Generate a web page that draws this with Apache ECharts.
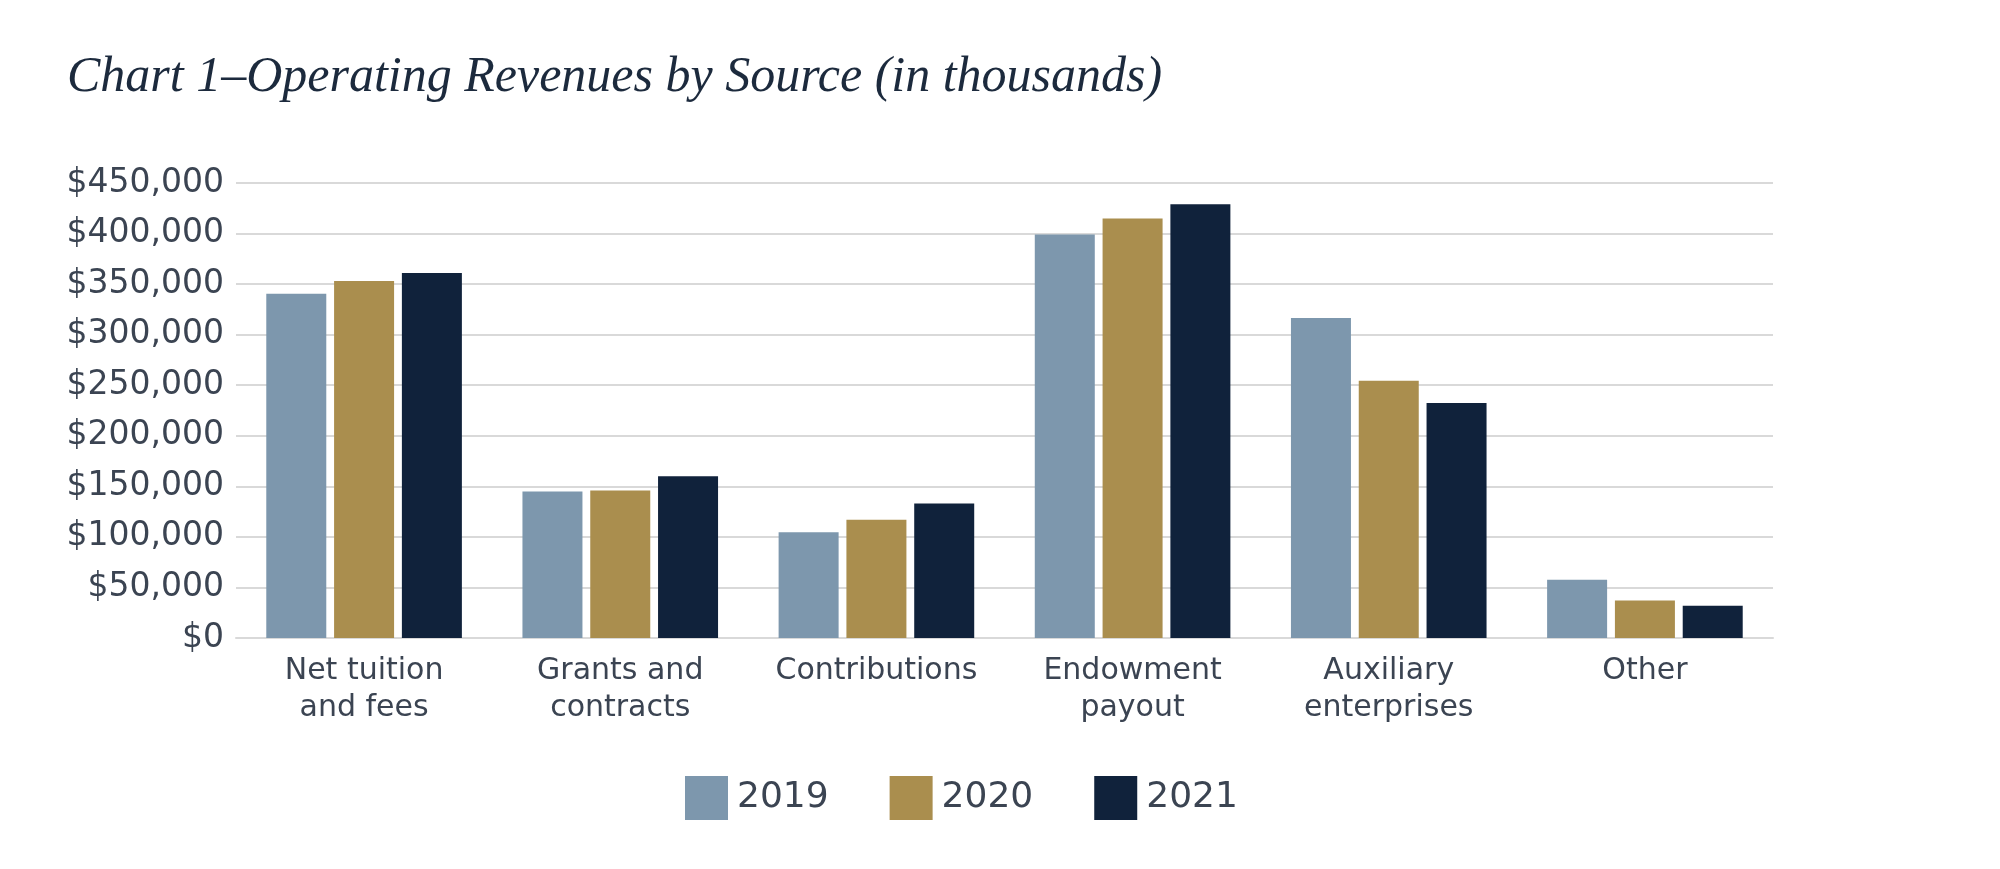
<!DOCTYPE html>
<html>
<head>
<meta charset="utf-8">
<script src="https://cdn.jsdelivr.net/npm/echarts@6/dist/echarts.min.js"></script>
<style>html,body{margin:0;padding:0;background:#fff;}#c{width:2000px;height:869px;}</style>
</head>
<body>
<div id="c"></div>
<script>
const categories = ['Net tuition\nand fees', 'Grants and\ncontracts', 'Contributions', 'Endowment\npayout', 'Auxiliary\nenterprises', 'Other'];
const years = ['2019', '2020', '2021'];
const values2019 = [340500, 145000, 104500, 399000, 316500, 57500];
const values2020 = [353000, 146000, 117000, 415000, 254500, 37000];
const values2021 = [361000, 160000, 133000, 429000, 232500, 32000];
const yTicks = { min: 0, max: 450000, interval: 50000 };
const colors = ['#7d97ad', '#aa8e4e', '#10223b'];

const chart = echarts.init(document.getElementById('c'));
const font = 'DejaVu Sans';
const textColor = '#3b4452';
const seriesData = [values2019, values2020, values2021];
chart.setOption({
  animation: false,
  title: {
    text: 'Chart 1–Operating Revenues by Source (in thousands)',
    left: 62, top: 48,
    textStyle: { fontFamily: 'Liberation Serif', fontStyle: 'italic', fontWeight: 'normal', fontSize: 50, color: '#1c2a3d' }
  },
  legend: {
    data: years,
    left: 680, top: 771,
    icon: 'rect', itemWidth: 43, itemHeight: 44, itemGap: 61,
    textStyle: { fontFamily: font, fontSize: 36, color: textColor, padding: [0, 0, 0, 4] }
  },
  grid: { left: 236, right: 227, top: 183, bottom: 231, containLabel: false },
  xAxis: {
    type: 'category', data: categories,
    axisLine: { lineStyle: { color: '#d9d9d9', width: 2 } },
    axisTick: { show: false },
    axisLabel: { interval: 0, fontFamily: font, fontSize: 30, color: textColor, margin: 15, lineHeight: 37 }
  },
  yAxis: {
    type: 'value', min: yTicks.min, max: yTicks.max, interval: yTicks.interval,
    axisLine: { show: false }, axisTick: { show: false },
    splitLine: { lineStyle: { color: '#d9d9d9', width: 2 } },
    axisLabel: { fontFamily: font, fontSize: 33, color: textColor, margin: 12,
      formatter: v => '$' + v.toLocaleString('en-US') }
  },
  series: years.map((y, i) => ({
    name: y, type: 'bar', data: seriesData[i],
    barWidth: 60, barGap: '13%',
    itemStyle: { color: colors[i] }
  }))
});
</script>
</body>
</html>
